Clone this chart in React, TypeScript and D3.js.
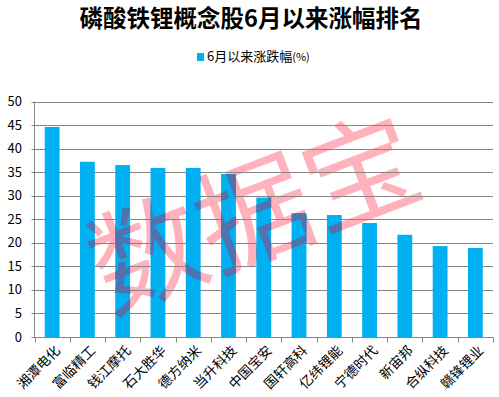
import { useRef, useEffect } from 'react';
import * as d3 from 'd3';

const stocks = ['湘潭电化', '富临精工', '钱江摩托', '石大胜华', '德方纳米', '当升科技', '中国宝安', '国轩高科', '亿纬锂能', '宁德时代', '新宙邦', '合纵科技', '赣锋锂业'];
const changes = [44.6, 37.2, 36.5, 35.9, 35.9, 34.6, 29.6, 26.3, 25.9, 24.2, 21.7, 19.3, 18.9];
const yTicks = [0, 5, 10, 15, 20, 25, 30, 35, 40, 45, 50];

const title = '磷酸铁锂概念股6月以来涨幅排名';
const seriesName = '6月以来涨跌幅';
const watermark = '数据宝';

export default function App() {
  const svgRef = useRef<SVGSVGElement>(null);
  const width = 499;
  const height = 397;

  useEffect(() => {
    const margin = { top: 101.5, right: 6, bottom: 60, left: 34.5 };
    const svg = d3.select(svgRef.current);
    svg.selectAll('*').remove();

    const x = d3
      .scaleBand()
      .domain(stocks)
      .range([margin.left, width - margin.right])
      .paddingInner(0.58)
      .paddingOuter(0.29);

    const y = d3
      .scaleLinear()
      .domain([0, 50])
      .range([height - margin.bottom, margin.top]);

    const sans = '"Noto Sans CJK SC", "Noto Sans", sans-serif';

    // title
    svg
      .append('text')
      .attr('x', 251)
      .attr('y', 27)
      .attr('text-anchor', 'middle')
      .attr('font-family', sans)
      .attr('font-weight', 'bold')
      .attr('font-size', 23.5)
      .attr('fill', '#000')
      .text(title);

    // legend
    const legend = svg.append('g').attr('transform', 'translate(197,53)');
    legend.append('rect').attr('width', 7).attr('height', 8).attr('fill', '#00b0f0');
    const lt = legend
      .append('text')
      .attr('x', 10)
      .attr('y', 7.5)
      .attr('font-family', sans)
      .attr('font-size', 13)
      .attr('fill', '#000');
    lt.append('tspan').text(seriesName);
    lt.append('tspan').attr('font-size', 11).text('(%)');

    const drawMark = (g: d3.Selection<SVGGElement, unknown, null, undefined>, fill: string) =>
      g
        .append('text')
        .attr('transform', 'translate(251,206) rotate(-21)')
        .attr('text-anchor', 'middle')
        .attr('dominant-baseline', 'central')
        .attr('font-family', sans)
        .attr('font-size', 114)
        .attr('font-weight', 400)
        .attr('fill', fill)
        .text(watermark);

    // watermark behind the grid
    drawMark(svg.append('g'), '#ffb1bc');

    // gridlines
    svg
      .append('g')
      .selectAll('line')
      .data(yTicks)
      .join('line')
      .attr('x1', margin.left - 3)
      .attr('x2', width - margin.right)
      .attr('y1', (d) => Math.round(y(d)) + 0.5)
      .attr('y2', (d) => Math.round(y(d)) + 0.5)
      .attr('stroke', '#868686');

    // y labels
    svg
      .append('g')
      .selectAll('text')
      .data(yTicks)
      .join('text')
      .attr('x', 22)
      .attr('y', (d) => y(d) + 4.5)
      .attr('text-anchor', 'end')
      .attr('font-family', sans)
      .attr('font-size', 13)
      .attr('fill', '#000')
      .text((d) => d);

    // y axis line
    svg
      .append('line')
      .attr('x1', margin.left)
      .attr('x2', margin.left)
      .attr('y1', y(50))
      .attr('y2', y(0))
      .attr('stroke', '#868686');

    // bars
    svg
      .append('g')
      .selectAll('rect')
      .data(stocks)
      .join('rect')
      .attr('x', (d) => x(d)!)
      .attr('width', x.bandwidth())
      .attr('y', (_, i) => y(changes[i]))
      .attr('height', (_, i) => y(0) - y(changes[i]))
      .attr('fill', '#00b0f0');

    // watermark over the bars shows darker
    const clip = svg.append('clipPath').attr('id', 'bar-clip');
    stocks.forEach((s, i) => {
      clip
        .append('rect')
        .attr('x', x(s)!)
        .attr('width', x.bandwidth())
        .attr('y', y(changes[i]))
        .attr('height', y(0) - y(changes[i]));
    });
    drawMark(svg.append('g').attr('clip-path', 'url(#bar-clip)'), '#4e73ae');

    // x axis
    const xAxisY = Math.round(y(0)) + 0.5;
    svg
      .append('line')
      .attr('x1', margin.left)
      .attr('x2', width - margin.right)
      .attr('y1', xAxisY)
      .attr('y2', xAxisY)
      .attr('stroke', '#868686');

    const step = x.step();
    const boundaries = d3.range(stocks.length + 1).map((i) => margin.left + i * step);
    svg
      .append('g')
      .selectAll('line')
      .data(boundaries)
      .join('line')
      .attr('x1', (d) => Math.round(d) + 0.5)
      .attr('x2', (d) => Math.round(d) + 0.5)
      .attr('y1', xAxisY)
      .attr('y2', xAxisY + 5)
      .attr('stroke', '#868686');

    svg
      .append('g')
      .selectAll('text')
      .data(stocks)
      .join('text')
      .attr('transform', (d) => `translate(${x(d)! + x.bandwidth() / 2 + 9},${xAxisY + 14}) rotate(-45)`)
      .attr('text-anchor', 'end')
      .attr('font-family', sans)
      .attr('font-size', 13.5)
      .attr('fill', '#000')
      .text((d) => d);
  }, []);

  return (
    <svg
      ref={svgRef}
      width={width}
      height={height}
      style={{ position: 'absolute', left: 0, top: 0, background: '#fff' }}
    ></svg>
  );
}
